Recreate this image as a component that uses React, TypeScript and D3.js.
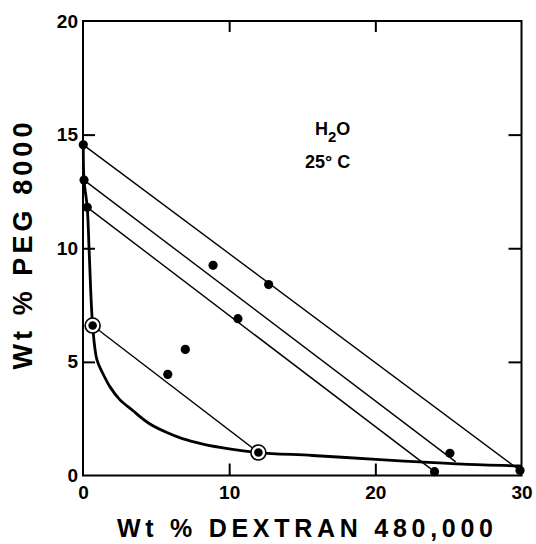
import React, { useEffect, useRef } from "react";
import * as d3 from "d3";

// tick values
const xTicks = [0, 10, 20, 30];
const yTicks = [0, 5, 10, 15, 20];
const xInnerTicks = [10, 20];
const yInnerTicks = [5, 10, 15];

// binodal curve (wt % dextran, wt % PEG)
const curveX = [0.02, 0.07, 0.29, 0.42, 0.66, 0.95, 1.35, 1.85, 2.5, 3.4, 4.5, 5.7, 6.8, 8.2, 10, 12.0, 15.7, 20.3, 23, 26, 30];
const curveY = [14.55, 13.0, 11.8, 9.9, 6.6, 5.1, 4.5, 3.9, 3.35, 2.86, 2.3, 1.9, 1.62, 1.38, 1.17, 1.01, 0.88, 0.7, 0.6, 0.5, 0.42];

// tie lines: start / end
const tieX1 = [0.02, 0.07, 0.29, 0.66];
const tieY1 = [14.55, 13.0, 11.8, 6.6];
const tieX2 = [29.9, 25.5, 24.05, 12.0];
const tieY2 = [0.22, 0.6, 0.17, 1.01];

// measured compositions
const dotX = [0.02, 0.07, 0.29, 12.7, 8.9, 10.6, 5.8, 7.0, 25.1, 24.05, 29.9];
const dotY = [14.55, 13.0, 11.8, 8.4, 9.25, 6.9, 4.45, 5.55, 0.98, 0.17, 0.22];

// critical points (ringed)
const critX = [0.66, 12.0];
const critY = [6.6, 1.01];

const W = 536;
const H = 544;
const left = 83;
const right = 521.5;
const top = 21;
const bottom = 475.5;
const font = "'Liberation Sans', Arial, Helvetica, sans-serif";

export default function App() {
  const axRef = useRef<SVGGElement>(null);

  const x = d3.scaleLinear().domain([0, 30]).range([left, right]);
  const y = d3.scaleLinear().domain([0, 20]).range([bottom, top]);

  useEffect(() => {
    const g = d3.select(axRef.current);
    g.selectAll("*").remove();

    g.append("g")
      .attr("transform", `translate(0,${bottom})`)
      .call(d3.axisBottom(x).tickValues(xTicks).tickSize(0).tickPadding(10).tickFormat(d3.format("d")));
    g.append("g")
      .attr("transform", `translate(${left},0)`)
      .call(d3.axisLeft(y).tickValues(yTicks).tickSize(0).tickPadding(5).tickFormat(d3.format("d")));

    // inward ticks on all four sides
    g.append("g")
      .attr("transform", `translate(0,${bottom})`)
      .call(d3.axisBottom(x).tickValues(xInnerTicks).tickSize(-12).tickFormat(() => ""));
    g.append("g")
      .attr("transform", `translate(0,${top})`)
      .call(d3.axisTop(x).tickValues(xInnerTicks).tickSize(-11).tickFormat(() => ""));
    g.append("g")
      .attr("transform", `translate(${left},0)`)
      .call(d3.axisLeft(y).tickValues(yInnerTicks).tickSize(-12).tickFormat(() => ""));
    g.append("g")
      .attr("transform", `translate(${right},0)`)
      .call(d3.axisRight(y).tickValues(yInnerTicks).tickSize(-13).tickFormat(() => ""));

    g.selectAll(".domain").remove();
    g.selectAll(".tick line").attr("stroke", "#000").attr("stroke-width", 2);
    g.selectAll("text")
      .attr("font-family", font)
      .attr("font-size", 19)
      .attr("font-weight", "bold")
      .attr("fill", "#000");
  }, []);

  const curve = d3
    .line<number>()
    .x((_, i) => x(curveX[i]))
    .y((_, i) => y(curveY[i]))
    .curve(d3.curveCatmullRom.alpha(0.5));

  return (
    <svg width={W} height={H} style={{ position: "absolute", left: 0, top: 0, background: "#fff" }}>
      <rect x={left} y={top} width={right - left} height={bottom - top} fill="none" stroke="#000" strokeWidth={2} />
      <g ref={axRef} />

      {tieX1.map((_, i) => (
        <line
          key={"t" + i}
          x1={x(tieX1[i])}
          y1={y(tieY1[i])}
          x2={x(tieX2[i])}
          y2={y(tieY2[i])}
          stroke="#000"
          strokeWidth={1.4}
        />
      ))}

      <path d={curve(curveX) || ""} fill="none" stroke="#000" strokeWidth={2.8} />

      {critX.map((_, i) => (
        <circle key={"c" + i} cx={x(critX[i])} cy={y(critY[i])} r={7.5} fill="#fff" stroke="#000" strokeWidth={1.6} />
      ))}
      {critX.map((_, i) => (
        <circle key={"cd" + i} cx={x(critX[i])} cy={y(critY[i])} r={4.3} fill="#000" />
      ))}
      {dotX.map((_, i) => (
        <circle key={"d" + i} cx={x(dotX[i])} cy={y(dotY[i])} r={4.6} fill="#000" />
      ))}

      <g fontFamily={font} fontWeight="bold" fill="#000">
        <text x={315} y={135} fontSize={18}>
          H<tspan fontSize={15} dy={7}>2</tspan>
          <tspan dy={-7}>O</tspan>
        </text>
        <text x={305} y={168} fontSize={18}>
          25° C
        </text>
        <text x={305} y={537} fontSize={25} textAnchor="middle" textLength={376} lengthAdjust="spacing">
          Wt % DEXTRAN 480,000
        </text>
        <text
          transform="translate(32,246) rotate(-90)"
          fontSize={27}
          textAnchor="middle"
          textLength={247}
          lengthAdjust="spacing"
        >
          Wt % PEG 8000
        </text>
      </g>
    </svg>
  );
}
